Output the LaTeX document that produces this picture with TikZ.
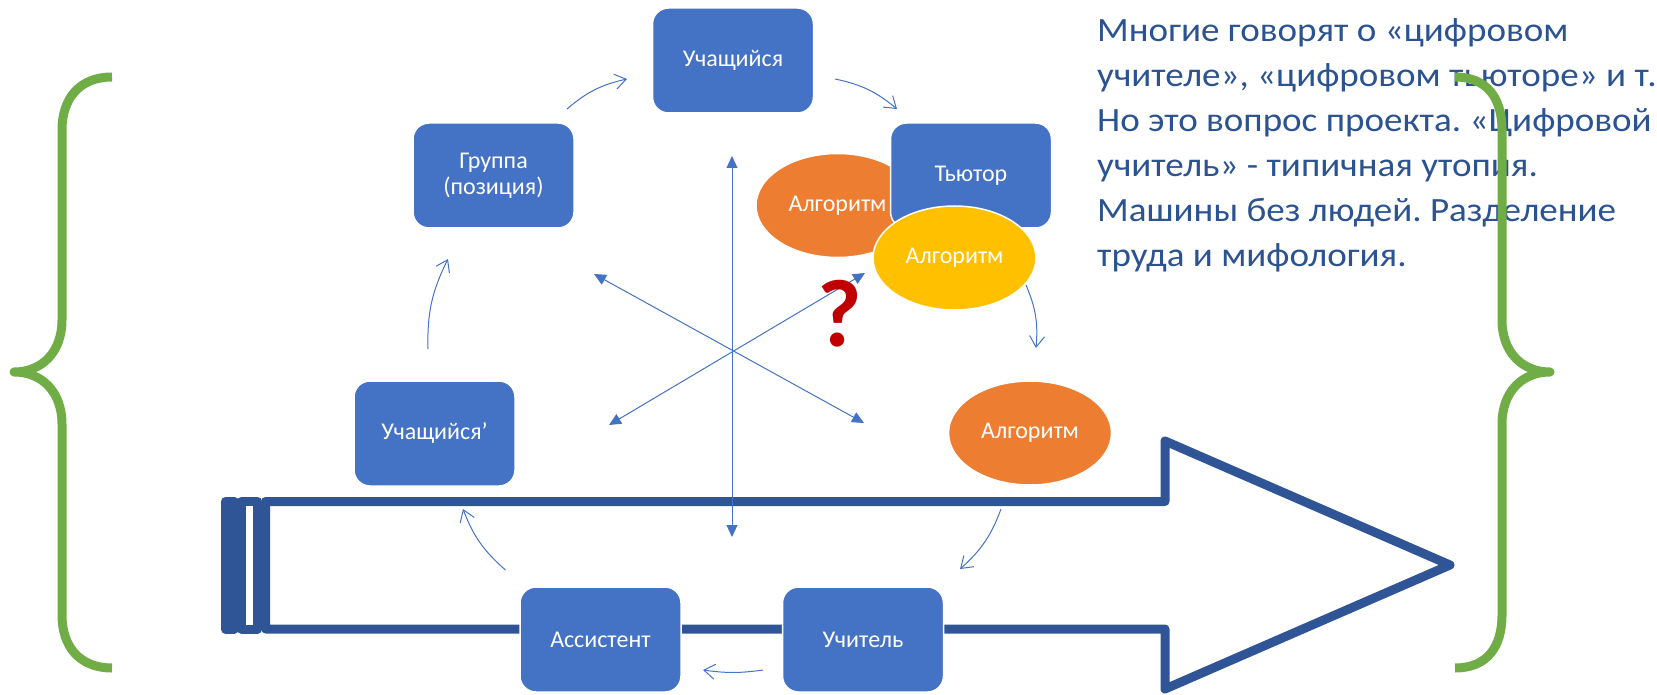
\documentclass[tikz,border=0pt]{standalone}
\usepackage{fontspec}
\setmainfont{Carlito}
\newfontfamily\notefont[FakeStretch=1.09]{Carlito}
\frenchspacing
\usetikzlibrary{arrows.meta,shapes.geometric}
\definecolor{boxblue}{HTML}{4472C4}
\definecolor{algoorange}{HTML}{ED7D31}
\definecolor{algoyellow}{HTML}{FFC000}
\definecolor{bracegreen}{HTML}{70AD47}
\definecolor{arrowblue}{HTML}{2F5597}
\definecolor{noteblue}{HTML}{2B5291}
\definecolor{qred}{HTML}{C00000}
\tikzset{
  role box/.style={
    fill=boxblue,
    draw=white,
    line width=1.5pt,
    rounded corners=16pt,
    minimum width=161pt,
    minimum height=105pt,
    text=white,
    align=center,
    font=\fontsize{24}{26}\selectfont,
  },
  algo/.style={
    ellipse,
    fill=#1,
    draw=white,
    line width=1.5pt,
    minimum width=163pt,
    minimum height=104pt,
    inner sep=0pt,
    text=white,
    font=\fontsize{24}{26}\selectfont,
  },
  cycle link/.style={
    draw=boxblue,
    line width=1pt,
    -{Straight Barb[length=11pt,width=15pt]},
    bend left=#1,
  },
  cycle link/.default=14,
  cross link/.style={
    draw=boxblue,
    line width=1pt,
    {Triangle[length=12pt,width=11pt]}-{Triangle[length=12pt,width=11pt]},
  },
  brace/.style={
    draw=bracegreen,
    line width=9pt,
    line join=round,
  },
  big arrow/.style={
    draw=arrowblue,
    line width=9pt,
    line join=round,
  },
}

\begin{document}
\begin{tikzpicture}[x=1pt,y=-1pt]
  \useasboundingbox (0,0) rectangle (1657,695);

  % left brace
  \draw[brace] (112,77) .. controls (80,77) and (62,98) .. (62,130) -- (62,320)
    .. controls (62,352) and (42,372) .. (14,372)
    .. controls (42,372) and (62,392) .. (62,424) -- (62,615)
    .. controls (62,647) and (80,668) .. (112,668);

  % striped arrow
  \draw[big arrow] (265.5,501.5) -- (1165,501.5) -- (1165,441) -- (1450,565)
    -- (1165,689) -- (1165,629) -- (265.5,629) -- cycle;
  \draw[big arrow, fill=arrowblue] (225.5,501.5) rectangle (234,629);
  \draw[big arrow] (241.5,501.5) rectangle (257.5,629);

  % roles
  \node [algo=algoorange] (algo1) at (837.5,205.5) {Алгоритм};
  \node [role box] (student) at (733,60.5) {Учащийся};
  \node [role box] (group) at (493.5,175.5) {Группа\\(позиция)};
  \node [role box] (tutor) at (971,175.5) {Тьютор};
  \node [algo=algoyellow] (algo2) at (954.5,258) {Алгоритм};
  \node [algo=algoorange] (algo3) at (1030,433) {Алгоритм};
  \node [role box] (teacher) at (863,639.5) {Учитель};
  \node [role box] (assistant) at (600.5,639.5) {Ассистент};
  \node [role box] (student2) at (434.5,433.5) {Учащийся’};

  % cycle ends
  \coordinate (c1s) at (567,109);  \coordinate (c1e) at (627,79);
  \coordinate (c2s) at (835,79);   \coordinate (c2e) at (897,109);
  \coordinate (c3s) at (1026,285); \coordinate (c3e) at (1036,348);
  \coordinate (c4s) at (1001,509); \coordinate (c4e) at (960,569);
  \coordinate (c5s) at (763,670);  \coordinate (c5e) at (703,670);
  \coordinate (c6s) at (505.5,570); \coordinate (c6e) at (463,509);
  \coordinate (c7s) at (428,349);  \coordinate (c7e) at (448,259);

  \draw[cycle link] (c1s) to (c1e);
  \draw[cycle link] (c2s) to (c2e);
  \draw[cycle link] (c3s) to (c3e);
  \draw[cycle link] (c4s) to (c4e);
  \draw[cycle link=8] (c5s) to (c5e);
  \draw[cycle link] (c6s) to (c6e);
  \draw[cycle link] (c7s) to (c7e);

  % cross
  \coordinate (up) at (732,156);    \coordinate (down) at (732,537);
  \coordinate (upleft) at (594,274); \coordinate (downright) at (864,423);
  \coordinate (upright) at (865,273); \coordinate (downleft) at (609,425);
  \draw[cross link] (up) -- (down);
  \draw[cross link] (upleft) -- (downright);
  \draw[cross link] (downleft) -- (upright);

  \node [anchor=base west, align=left, inner sep=0pt, text=noteblue,
    font=\notefont\fontsize{34}{45}\selectfont] (note) at (1097,266.7)
    {Многие говорят о «цифровом\\
     учителе», «цифровом тьюторе» и т.\\
     Но это вопрос проекта. «Цифровой\\
     учитель» - типичная утопия.\\
     Машины без людей. Разделение\\
     труда и мифология.};

  % right brace
  \draw[brace] (1455,77) .. controls (1487,77) and (1502,98) .. (1502,130) -- (1502,320)
    .. controls (1502,352) and (1522,372) .. (1550,372)
    .. controls (1522,372) and (1502,392) .. (1502,424) -- (1502,615)
    .. controls (1502,647) and (1487,668) .. (1455,668);

  \node [text=qred, inner sep=0pt, font=\fontsize{96}{96}\selectfont\bfseries] (qmark) at (840,313.5) {?};
\end{tikzpicture}
\end{document}
